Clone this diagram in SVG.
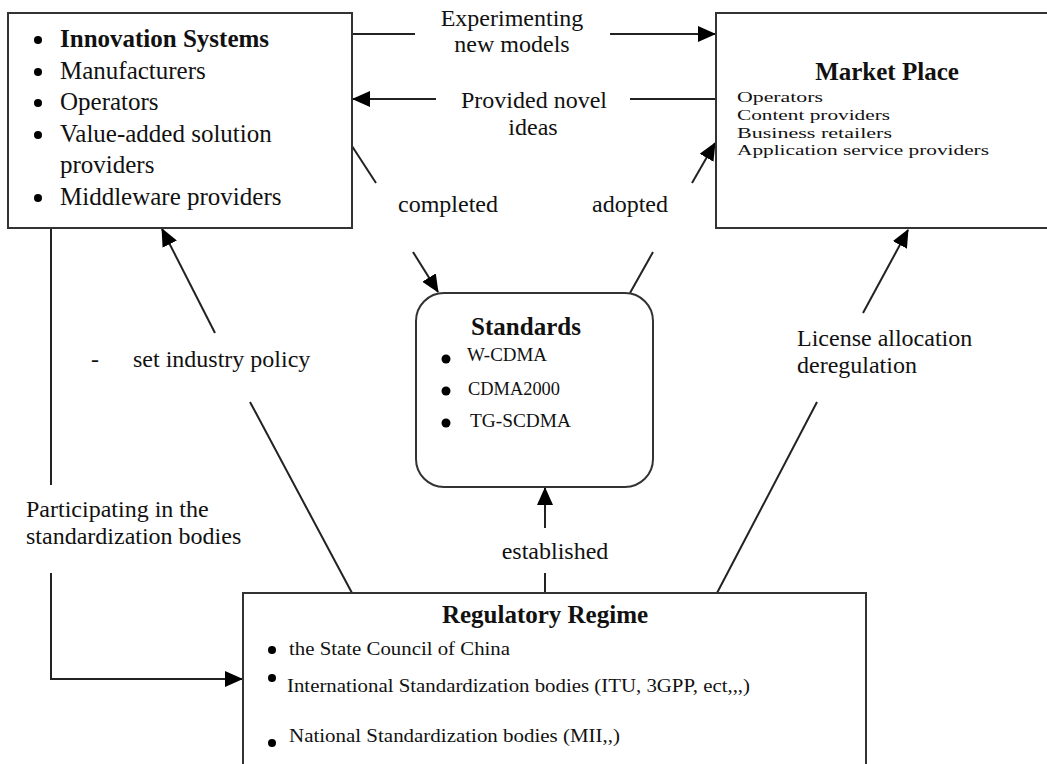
<svg xmlns="http://www.w3.org/2000/svg" width="1047" height="764" viewBox="0 0 1047 764">
<style>
.box{fill:#fff;stroke:#333;stroke-width:2}
.ln{fill:none;stroke:#222;stroke-width:2}
.arr{fill:none;stroke:#222;stroke-width:2;marker-end:url(#ah)}
.t{font-family:"Liberation Serif","Times New Roman",serif;fill:#111}
.lbl{font-size:24px}
.big{font-size:25px}
.b{font-weight:bold}
.sm{font-size:18px}
.xs{font-size:15.5px}
.dot{fill:#000}
</style>
<defs>
<marker id="ah" markerWidth="18" markerHeight="16" refX="17" refY="8" orient="auto" markerUnits="userSpaceOnUse">
<path d="M0,0 L18,8 L0,16 Z" fill="#000"/>
</marker>
</defs>
<rect width="1047" height="764" fill="#fff"/>

<g id="connectors">
<line class="ln" x1="352" y1="34" x2="415" y2="34"/>
<line class="arr" x1="610" y1="34" x2="715" y2="34"/>
<line class="ln" x1="716" y1="99" x2="630" y2="99"/>
<line class="arr" x1="436" y1="99" x2="353" y2="99"/>
<line class="ln" x1="350" y1="143" x2="376" y2="183"/>
<line class="arr" x1="413" y1="252" x2="438" y2="292"/>
<line class="ln" x1="630" y1="293" x2="653" y2="252"/>
<line class="arr" x1="692" y1="183" x2="715" y2="143"/>
<line class="arr" x1="215" y1="333" x2="162" y2="229"/>
<line class="ln" x1="250" y1="402" x2="352" y2="593"/>
<line class="ln" x1="51" y1="228" x2="51" y2="485"/>
<polyline class="arr" points="51,573 51,679 242,679"/>
<line class="ln" x1="545" y1="593" x2="545" y2="573"/>
<line class="arr" x1="545" y1="528" x2="545" y2="488"/>
<line class="arr" x1="863" y1="313" x2="908" y2="230"/>
<line class="ln" x1="817" y1="402" x2="717" y2="593"/>

<text class="t lbl" x="512" y="26" text-anchor="middle">Experimenting</text>
<text class="t lbl" x="512" y="52" text-anchor="middle">new models</text>
<text class="t lbl" x="534" y="108" text-anchor="middle">Provided novel</text>
<text class="t lbl" x="533" y="135" text-anchor="middle">ideas</text>
<text class="t lbl" x="398" y="212">completed</text>
<text class="t lbl" x="592" y="212">adopted</text>
<text class="t lbl" x="91" y="367">-</text>
<text class="t lbl" x="133" y="367">set industry policy</text>
<text class="t lbl" x="26" y="517">Participating in the</text>
<text class="t lbl" x="26" y="544">standardization bodies</text>
<text class="t lbl" x="555" y="559" text-anchor="middle">established</text>
<text class="t lbl" x="797" y="346">License allocation</text>
<text class="t lbl" x="797" y="373">deregulation</text>
</g>

<g id="innovation">
<rect class="box" x="8" y="13" width="344" height="215"/>
<circle class="dot" cx="38" cy="40" r="4"/>
<circle class="dot" cx="38" cy="72" r="4"/>
<circle class="dot" cx="38" cy="103" r="4"/>
<circle class="dot" cx="38" cy="135" r="4"/>
<circle class="dot" cx="38" cy="198" r="4"/>
<text class="t big b" x="60" y="47">Innovation Systems</text>
<text class="t big" x="60" y="79">Manufacturers</text>
<text class="t big" x="60" y="110">Operators</text>
<text class="t big" x="60" y="142">Value-added solution</text>
<text class="t big" x="60" y="173">providers</text>
<text class="t big" x="60" y="205">Middleware providers</text>
</g>

<g id="market">
<rect class="box" x="716" y="13" width="360" height="215"/>
<text class="t big b" x="887" y="80" text-anchor="middle">Market Place</text>
<text class="t xs" x="737" y="102" textLength="86" lengthAdjust="spacingAndGlyphs">Operators</text>
<text class="t xs" x="737" y="120" textLength="153" lengthAdjust="spacingAndGlyphs">Content providers</text>
<text class="t xs" x="737" y="138" textLength="155" lengthAdjust="spacingAndGlyphs">Business retailers</text>
<text class="t xs" x="737" y="155" textLength="252" lengthAdjust="spacingAndGlyphs">Application service providers</text>
</g>

<g id="standards">
<rect class="box" x="416" y="293" width="237" height="194" rx="28" ry="28"/>
<text class="t big b" x="526" y="335" text-anchor="middle">Standards</text>
<circle class="dot" cx="446" cy="359" r="4.5"/>
<circle class="dot" cx="446" cy="391" r="4.5"/>
<circle class="dot" cx="446" cy="423" r="4.5"/>
<text class="t sm" x="467" y="361" textLength="80" lengthAdjust="spacingAndGlyphs">W-CDMA</text>
<text class="t sm" x="468" y="395" textLength="92" lengthAdjust="spacingAndGlyphs">CDMA2000</text>
<text class="t sm" x="470" y="427" textLength="101" lengthAdjust="spacingAndGlyphs">TG-SCDMA</text>
</g>

<g id="regulatory">
<rect class="box" x="243" y="593" width="623" height="200"/>
<text class="t big b" x="545" y="623" text-anchor="middle">Regulatory Regime</text>
<circle class="dot" cx="272" cy="650" r="4"/>
<circle class="dot" cx="272" cy="678" r="4"/>
<circle class="dot" cx="272" cy="743" r="4"/>
<text class="t sm" x="289" y="655" textLength="221" lengthAdjust="spacingAndGlyphs">the State Council of China</text>
<text class="t sm" x="287" y="692" textLength="463" lengthAdjust="spacingAndGlyphs">International Standardization bodies (ITU, 3GPP, ect,,,)</text>
<text class="t sm" x="289" y="742" textLength="331" lengthAdjust="spacingAndGlyphs">National Standardization bodies (MII,,)</text>
</g>
</svg>
